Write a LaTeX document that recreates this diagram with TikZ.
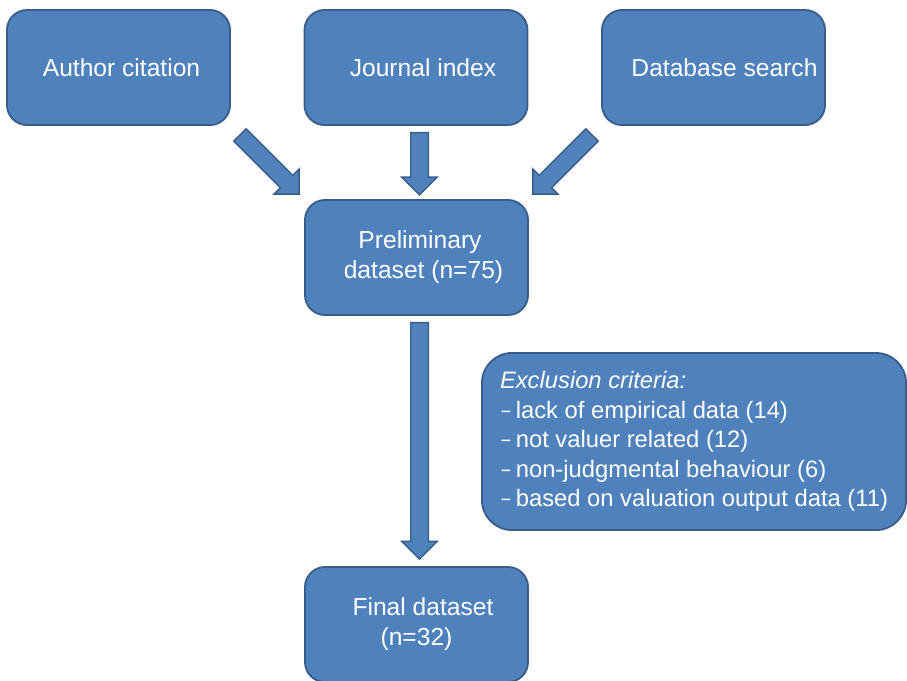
\documentclass[tikz,border=0pt]{standalone}
\usepackage{fontspec}
\setmainfont{Liberation Sans}
\newfontfamily\calfont{Carlito}
\usetikzlibrary{calc}

\definecolor{boxblue}{HTML}{4F81BD}
\definecolor{boxedge}{HTML}{385D8A}

\tikzset{
	flowbox/.style={draw=boxedge, fill=boxblue, line width=1.3pt, rounded corners=0.5cm,
		text=white, inner sep=0pt, minimum width=5.575cm, minimum height=2.875cm,
		align=center, font=\fontsize{17.5}{21.3}\selectfont},
	exclbox/.style={rounded corners=0.75cm, minimum width=10.6cm, minimum height=4.425cm,
		align=left, font=\fontsize{16.9}{21}\selectfont},
	fatarrow/.style={draw=boxedge, fill=boxblue, line width=1pt, line join=miter},
}

% block arrow from tail #1 to tip #2
\newcommand{\blockarrow}[2]{%
	\path ($(#2)!0.4425cm!(#1)$) coordinate (hb);
	\draw[fatarrow] ($(#1)!0.22cm!90:(#2)$) -- ($(hb)!0.22cm!90:(#2)$)
		-- ($(hb)!0.445cm!90:(#2)$) -- (#2) -- ($(hb)!0.445cm!-90:(#2)$)
		-- ($(hb)!0.22cm!-90:(#2)$) -- ($(#1)!0.22cm!-90:(#2)$) -- cycle;
}
% list dash
\newcommand{\exdash}{{\calfont –}\hspace{0.1cm}}

\begin{document}
\begin{tikzpicture}[x=0.025cm, y=-0.025cm]
	% page frame
	\useasboundingbox (0,0) rectangle (907,680);
	% sources
	\node[flowbox] (author) at (118.5,67.5) {\hspace*{0.15cm}Author citation};
	\node[flowbox] (journal) at (416,67.5) {\hspace*{0.35cm}Journal index};
	\node[flowbox] (database) at (713.5,67.5) {\hspace*{0.55cm}Database search};
	% datasets
	\node[flowbox] (prelim) at (416.5,257.5) {\hspace*{0.175cm}Preliminary\\\hspace*{0.35cm}dataset (n=75)};
	\node[flowbox] (final) at (416.5,624.5) {\hspace*{0.325cm}Final dataset\\(n=32)};
	% exclusion criteria
	\node[flowbox, exclbox] (excl) at (694,441.5) {{\itshape Exclusion criteria:}\\
		\exdash lack of empirical data (14)\\
		\exdash not valuer related (12)\\
		\exdash non-judgmental behaviour (6)\\
		\exdash based on valuation output data (11)};
	% arrow ends
	\coordinate (a1) at ([shift={(9,9)}]author.south east);
	\coordinate (a2) at ([shift={(-5,-5)}]prelim.north west);
	\coordinate (j1) at ([shift={(3.5,6.7)}]journal.south);
	\coordinate (j2) at ([shift={(3,-4.3)}]prelim.north);
	\coordinate (d1) at ([shift={(-9,9)}]database.south west);
	\coordinate (d2) at ([shift={(4,-5)}]prelim.north east);
	\coordinate (p1) at ([shift={(3,6.7)}]prelim.south);
	\coordinate (p2) at ([shift={(3,-7)}]final.north);
	% arrows
	\blockarrow{a1}{a2}
	\blockarrow{j1}{j2}
	\blockarrow{d1}{d2}
	\blockarrow{p1}{p2}
\end{tikzpicture}
\end{document}
